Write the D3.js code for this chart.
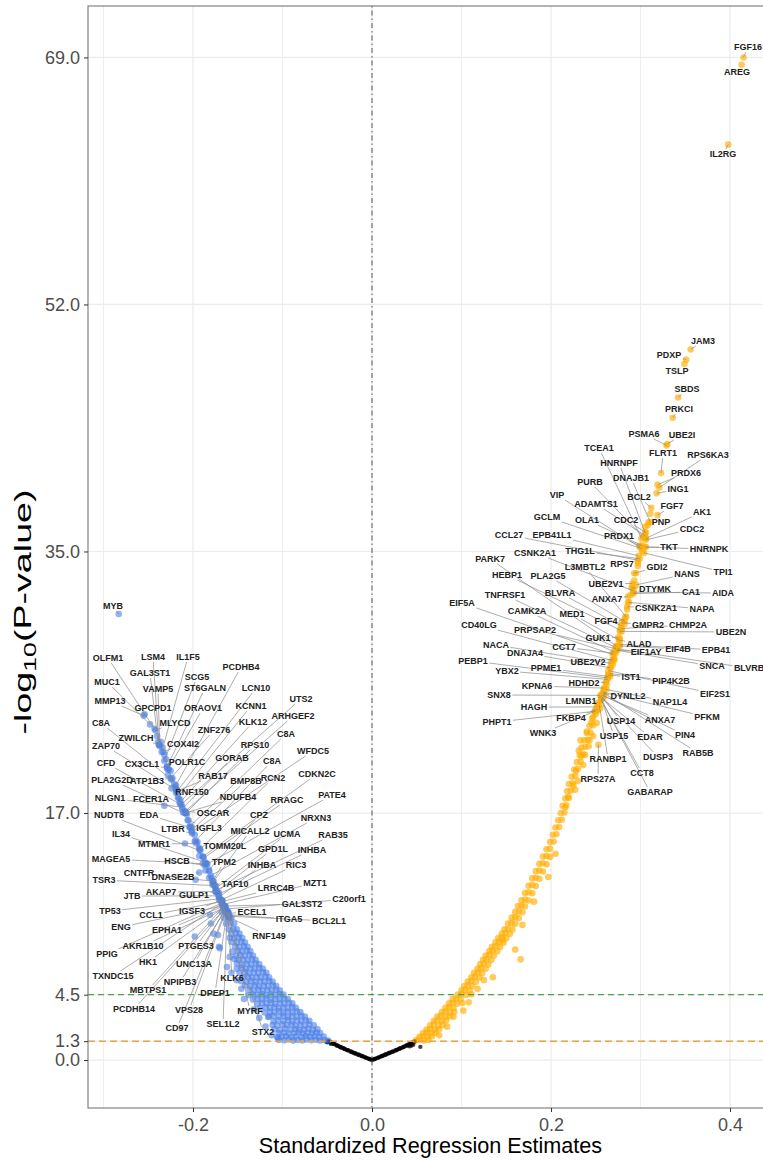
<!DOCTYPE html>
<html>
<head>
<meta charset="utf-8">
<script src="https://cdn.jsdelivr.net/npm/d3@7"></script>
<style>
  body { margin: 0; background: #fff; }
  svg { display: block; }
  text { font-family: "Liberation Sans", Arial, Helvetica, sans-serif; }
</style>
</head>
<body>
<svg id="chart" width="763" height="1163"></svg>
<script>
// ---------------- axis ticks ----------------
const xTicks = [-0.2, 0.0, 0.2, 0.4];
const xTickLabels = ["-0.2", "0.0", "0.2", "0.4"];
const xMinorTicks = [-0.3, -0.1, 0.1, 0.3];
const yTicks = [0, 1.3, 4.5, 17, 35, 52, 69];
const yTickLabels = ["0.0", "1.3", "4.5", "17.0", "35.0", "52.0", "69.0"];
const sigThreshold = 1.3;     // p = 0.05
const strictThreshold = 4.5;  // corrected threshold

// ---------------- non-significant genes [estimate, -log10 p] ----------------
const nsPoints = [
  [-0.002,0.05],[-0.004,0.10],[-0.006,0.15],[-0.008,0.20],[-0.010,0.25],[-0.012,0.30],[-0.014,0.35],[-0.016,0.39],
  [-0.018,0.44],[-0.020,0.49],[-0.022,0.54],[-0.024,0.59],[-0.026,0.65],[-0.028,0.70],[-0.030,0.75],[-0.032,0.81],
  [-0.034,0.86],[-0.036,0.92],[-0.038,0.98],[-0.040,1.04],[-0.042,1.10],[-0.044,1.16],[-0.046,1.22],[-0.048,1.28],
  [-0.003,0.07],[-0.007,0.17],[-0.011,0.27],[-0.015,0.37],[-0.019,0.47],[-0.023,0.57],[-0.027,0.68],[-0.031,0.78],
  [-0.035,0.88],[-0.039,0.99],[-0.043,1.11],[-0.047,1.23],[-0.049,1.30],[-0.050,1.22],[-0.051,1.27],[-0.046,1.12],
  [0.000,0.00],[0.002,0.05],[0.004,0.10],[0.006,0.15],[0.008,0.20],[0.010,0.25],[0.012,0.30],[0.014,0.35],[0.016,0.40],
  [0.018,0.45],[0.020,0.50],[0.022,0.55],[0.024,0.60],[0.026,0.66],[0.028,0.71],[0.030,0.76],[0.032,0.82],
  [0.034,0.87],[0.036,0.93],[0.038,0.99],[0.040,1.05],[0.042,1.11],[0.044,1.17],[0.046,1.23],[0.048,1.29],
  [0.003,0.07],[0.007,0.17],[0.011,0.28],[0.015,0.38],[0.019,0.48],[0.023,0.58],[0.027,0.68],[0.031,0.79],
  [0.035,0.89],[0.039,1.00],[0.043,1.12],[0.047,1.24],[0.042,0.95],[0.044,1.00],[0.046,1.06],[0.054,0.91]
];

// ---------------- negatively associated genes [estimate, -log10 p] ----------------
const downPoints = [
  [-0.049,1.35],[-0.053,1.38],[-0.058,1.34],[-0.063,1.40],[-0.068,1.36],[-0.073,1.42],[-0.078,1.35],[-0.083,1.39],[-0.088,1.34],[-0.093,1.41],[-0.098,1.36],[-0.104,1.38],
  [-0.054,1.62],[-0.059,1.58],[-0.064,1.64],[-0.069,1.60],[-0.074,1.66],[-0.079,1.59],[-0.085,1.63],[-0.090,1.57],[-0.096,1.65],[-0.101,1.61],[-0.106,1.58],
  [-0.058,1.86],[-0.062,1.90],[-0.067,1.84],[-0.072,1.88],[-0.077,1.83],[-0.082,1.91],[-0.087,1.86],[-0.093,1.82],[-0.098,1.89],[-0.104,1.85],
  [-0.061,2.12],[-0.066,2.08],[-0.071,2.15],[-0.076,2.10],[-0.081,2.06],[-0.086,2.13],[-0.091,2.09],[-0.097,2.16],[-0.103,2.07],[-0.109,2.11],
  [-0.065,2.40],[-0.070,2.44],[-0.075,2.38],[-0.080,2.42],[-0.085,2.36],[-0.090,2.45],[-0.095,2.39],[-0.100,2.43],[-0.106,2.37],[-0.111,2.41],
  [-0.070,2.70],[-0.074,2.74],[-0.079,2.68],[-0.084,2.72],[-0.089,2.66],[-0.094,2.75],[-0.099,2.69],[-0.105,2.73],[-0.110,2.67],
  [-0.075,3.00],[-0.079,3.04],[-0.084,2.98],[-0.089,3.02],[-0.094,2.96],[-0.099,3.05],[-0.104,2.99],[-0.110,3.03],[-0.116,2.97],
  [-0.080,3.30],[-0.084,3.34],[-0.089,3.28],[-0.094,3.32],[-0.099,3.26],[-0.104,3.35],[-0.109,3.29],[-0.114,3.33],[-0.120,3.27],
  [-0.085,3.60],[-0.089,3.64],[-0.094,3.58],[-0.099,3.62],[-0.104,3.56],[-0.109,3.65],[-0.114,3.59],[-0.119,3.63],[-0.125,3.57],
  [-0.089,3.90],[-0.093,3.94],[-0.098,3.88],[-0.103,3.92],[-0.108,3.86],[-0.113,3.95],[-0.118,3.89],[-0.123,3.93],[-0.128,3.87],
  [-0.094,4.20],[-0.098,4.24],[-0.103,4.18],[-0.108,4.22],[-0.113,4.16],[-0.118,4.25],[-0.123,4.19],[-0.128,4.23],[-0.133,4.17],
  [-0.099,4.50],[-0.103,4.54],[-0.108,4.48],[-0.113,4.52],[-0.118,4.46],[-0.123,4.55],[-0.128,4.49],[-0.133,4.53],[-0.138,4.47],
  [-0.103,4.80],[-0.107,4.84],[-0.112,4.78],[-0.117,4.82],[-0.122,4.76],[-0.127,4.85],[-0.132,4.79],[-0.137,4.83],
  [-0.107,5.10],[-0.111,5.14],[-0.116,5.08],[-0.121,5.12],[-0.126,5.06],[-0.131,5.15],[-0.136,5.09],[-0.142,5.13],
  [-0.111,5.40],[-0.115,5.44],[-0.120,5.38],[-0.125,5.42],[-0.130,5.36],[-0.135,5.45],[-0.140,5.39],[-0.146,5.43],
  [-0.115,5.70],[-0.119,5.74],[-0.124,5.68],[-0.129,5.72],[-0.134,5.66],[-0.139,5.75],[-0.144,5.69],
  [-0.118,6.00],[-0.122,6.04],[-0.127,5.98],[-0.132,6.02],[-0.137,5.96],[-0.142,6.05],[-0.148,5.99],
  [-0.122,6.30],[-0.126,6.34],[-0.131,6.28],[-0.136,6.32],[-0.141,6.26],[-0.146,6.35],[-0.151,6.29],
  [-0.126,6.60],[-0.130,6.64],[-0.135,6.58],[-0.140,6.62],[-0.145,6.56],[-0.151,6.65],
  [-0.130,6.90],[-0.134,6.94],[-0.139,6.88],[-0.144,6.92],[-0.149,6.86],[-0.154,6.95],
  [-0.133,7.20],[-0.137,7.24],[-0.142,7.18],[-0.147,7.22],[-0.152,7.16],
  [-0.136,7.50],[-0.140,7.54],[-0.145,7.48],[-0.150,7.52],[-0.156,7.46],
  [-0.139,7.80],[-0.143,7.84],[-0.148,7.78],[-0.153,7.82],
  [-0.142,8.10],[-0.146,8.14],[-0.151,8.08],[-0.157,8.12],
  [-0.145,8.40],[-0.149,8.44],[-0.154,8.38],[-0.159,8.42],
  [-0.148,8.70],[-0.152,8.74],[-0.157,8.68],
  [-0.151,9.00],[-0.155,9.04],[-0.160,8.98],
  [-0.154,9.40],[-0.158,9.44],[-0.163,9.38],
  [-0.157,9.80],[-0.161,9.84],[-0.165,9.78],
  [-0.161,10.20],[-0.164,10.24],[-0.168,10.18],
  [-0.164,10.60],[-0.167,10.64],[-0.167,11.00],[-0.171,11.04],[-0.171,11.50],[-0.174,11.54],
  [-0.175,12.00],[-0.178,12.04],[-0.179,12.50],[-0.182,12.54],[-0.182,13.00],[-0.186,13.04],
  [-0.186,13.50],[-0.189,13.54],[-0.189,14.00],[-0.193,14.04],[-0.193,14.50],[-0.195,15.00],[-0.198,15.04],
  [-0.198,15.50],[-0.201,16.00],[-0.204,16.04],[-0.205,16.50],[-0.208,17.00],[-0.211,17.04],
  [-0.216,18.00],[-0.221,19.00],[-0.224,18.70],[-0.228,19.60],[-0.227,20.00],[-0.232,21.00],[-0.236,21.90],
  [-0.214,17.90],[-0.219,18.90],[-0.225,19.90],[-0.230,20.70],[-0.234,21.50],[-0.240,22.30],
  [-0.209,14.90],[-0.197,12.40],[-0.181,10.00],[-0.180,9.40],[-0.198,8.50],[-0.177,8.70],[-0.172,8.60],
  [-0.171,7.80],[-0.170,7.70],[-0.159,7.10],[-0.162,6.40],[-0.157,6.00],[-0.151,5.50],[-0.146,4.90],
  [-0.143,4.20],[-0.132,3.50],[-0.126,2.90],[-0.119,2.30],[-0.112,1.70],[-0.105,1.52],[-0.115,3.00]
];

// ---------------- positively associated genes [estimate, -log10 p] ----------------
const upPoints = [
  [0.049,1.36],[0.053,1.40],[0.058,1.34],[0.063,1.38],
  [0.053,1.60],[0.057,1.64],[0.062,1.58],[0.067,1.62],
  [0.057,1.86],[0.061,1.90],[0.066,1.84],[0.071,1.88],
  [0.061,2.10],[0.065,2.14],[0.070,2.08],[0.075,2.12],
  [0.065,2.40],[0.069,2.44],[0.074,2.38],[0.079,2.42],
  [0.069,2.70],[0.073,2.74],[0.078,2.68],[0.083,2.72],
  [0.073,3.00],[0.077,3.04],[0.082,2.98],[0.087,3.02],
  [0.078,3.30],[0.082,3.34],[0.087,3.28],[0.092,3.32],
  [0.082,3.60],[0.086,3.64],[0.091,3.58],
  [0.086,3.90],[0.090,3.94],[0.095,3.88],[0.101,3.92],
  [0.090,4.20],[0.094,4.24],[0.099,4.18],
  [0.096,4.50],[0.100,4.54],[0.105,4.48],[0.111,4.52],
  [0.100,4.80],[0.104,4.84],[0.109,4.78],
  [0.103,5.10],[0.107,5.14],[0.112,5.08],
  [0.107,5.40],[0.111,5.44],[0.116,5.38],
  [0.111,5.70],[0.115,5.74],[0.120,5.68],
  [0.114,6.00],[0.118,6.04],[0.123,5.98],
  [0.118,6.30],[0.122,6.34],[0.127,6.28],
  [0.121,6.60],[0.125,6.64],[0.130,6.58],
  [0.124,6.90],[0.128,6.94],[0.133,6.88],
  [0.127,7.20],[0.131,7.24],[0.136,7.18],
  [0.131,7.50],[0.135,7.54],[0.140,7.48],
  [0.134,7.80],[0.138,7.84],[0.143,7.78],
  [0.138,8.10],[0.142,8.14],[0.147,8.08],
  [0.141,8.40],[0.145,8.44],[0.150,8.38],
  [0.145,8.70],[0.149,8.74],[0.154,8.68],
  [0.148,9.00],[0.152,9.04],[0.157,8.98],
  [0.152,9.40],[0.156,9.44],[0.160,9.38],
  [0.156,9.80],[0.160,9.84],[0.164,9.78],
  [0.160,10.20],[0.164,10.24],[0.168,10.18],
  [0.163,10.60],[0.167,10.64],[0.171,10.58],
  [0.167,11.00],[0.171,11.04],[0.175,10.98],
  [0.171,11.50],[0.175,11.54],[0.179,11.48],
  [0.175,12.00],[0.179,12.04],[0.183,11.98],
  [0.179,12.50],[0.183,12.54],[0.187,12.48],
  [0.183,13.00],[0.187,13.04],[0.191,12.98],
  [0.187,13.50],[0.191,13.54],[0.195,13.48],
  [0.191,14.00],[0.195,14.04],[0.199,13.98],
  [0.195,14.50],[0.199,14.54],[0.199,15.00],[0.203,15.04],[0.202,15.50],[0.206,15.54],
  [0.205,16.00],[0.209,16.04],[0.208,16.50],[0.212,16.54],[0.211,17.00],[0.215,17.04],
  [0.213,17.50],[0.217,17.54],[0.216,18.00],[0.220,18.04],[0.218,18.50],[0.222,18.54],
  [0.220,19.00],[0.224,19.04],[0.223,19.50],[0.227,19.54],[0.226,20.00],[0.230,20.04],
  [0.229,20.50],[0.233,20.54],[0.232,21.00],[0.236,21.04],[0.234,21.50],[0.238,21.54],
  [0.237,22.00],[0.241,22.04],[0.240,22.50],[0.244,22.54],[0.243,23.00],[0.247,23.04],
  [0.246,23.50],[0.249,24.00],[0.252,24.04],[0.252,24.50],[0.256,25.00],[0.259,25.50],
  [0.262,26.00],[0.264,26.50],[0.267,27.00],[0.270,27.50],[0.272,28.00],[0.274,28.50],
  [0.277,29.00],[0.279,29.50],[0.282,30.00],[0.283,30.50],[0.285,31.00],[0.287,31.50],
  [0.289,32.00],[0.291,32.50],[0.293,33.00],[0.295,33.50],[0.297,34.00],[0.302,35.00],
  [0.305,36.00],[0.309,37.00],[0.311,37.60],[0.305,36.70],
  [0.225,18.90],[0.219,18.10],[0.216,17.40],[0.234,20.90],[0.231,21.30],[0.233,22.00],[0.240,22.60],
  [0.245,23.20],[0.250,23.80],[0.238,21.00],[0.228,19.90],[0.243,22.00],[0.247,23.60],[0.253,24.60],
  [0.255,24.20],[0.259,25.00],[0.262,25.80],[0.266,26.40],[0.269,27.20],[0.271,27.60],
  [0.108,3.97],[0.091,2.98],[0.166,6.93],[0.168,9.30],[0.135,5.70],[0.146,8.26],[0.118,4.90],
  [0.125,5.50],[0.102,3.40],[0.084,2.30],[0.075,1.70],[0.181,10.90],[0.160,7.60],[0.197,12.60],
  [0.205,14.20],[0.230,19.20],[0.227,18.60],[0.236,20.30],[0.242,21.60],[0.247,22.30],[0.251,23.20]
];

// ---------------- labelled genes [name, estimate, -log10 p] ----------------
const upGenes = [
  ["FGF16",0.415,69.0],["AREG",0.413,68.5],["IL2RG",0.398,63.0],["JAM3",0.356,48.9],["PDXP",0.351,48.2],
  ["TSLP",0.349,47.9],["SBDS",0.342,45.6],["PRKCI",0.336,44.2],["PSMA6",0.329,42.3],["UBE2I",0.330,42.4],
  ["TCEA1",0.301,35.9],["FLRT1",0.323,40.4],["RPS6KA3",0.321,39.4],["HNRNPF",0.305,36.3],["PRDX6",0.319,39.6],
  ["DNAJB1",0.311,37.0],["PURB",0.303,36.0],["ING1",0.318,39.0],["VIP",0.299,35.3],["BCL2",0.312,38.0],
  ["ADAMTS1",0.305,36.1],["FGF7",0.319,37.5],["AK1",0.306,35.9],["PNP",0.308,36.8],["GCLM",0.301,35.2],
  ["OLA1",0.302,35.4],["CDC2",0.306,36.3],["CDC2",0.306,35.8],["CCL27",0.297,34.4],["EPB41L1",0.298,34.7],
  ["PRDX1",0.299,35.4],["TKT",0.305,35.3],["HNRNPK",0.306,35.3],["CSNK2A1",0.292,32.3],["THG1L",0.299,34.5],
  ["RPS7",0.297,34.2],["GDI2",0.293,33.5],["PARK7",0.273,28.5],["L3MBTL2",0.284,30.5],["NANS",0.295,32.7],
  ["TPI1",0.304,34.9],["HEBP1",0.277,29.6],["PLA2G5",0.282,30.2],["UBE2V1",0.291,32.8],["DTYMK",0.290,32.5],
  ["CA1",0.292,32.1],["AIDA",0.292,32.2],["TNFRSF1",0.272,28.4],["BLVRA",0.278,29.9],["ANXA7",0.286,31.9],
  ["EIF5A",0.269,27.9],["CSNK2A1",0.285,31.2],["NAPA",0.286,31.5],["CAMK2A",0.270,28.1],["MED1",0.276,28.9],
  ["FGF4",0.282,30.3],["GMPR2",0.279,30.1],["CHMP2A",0.279,29.7],["UBE2N",0.277,29.5],["CD40LG",0.268,27.5],
  ["PRPSAP2",0.273,28.3],["GUK1",0.275,29.1],["ALAD",0.276,28.9],["EIF1AY",0.273,28.2],["EIF4B",0.277,28.5],
  ["EPB41",0.277,28.6],["NACA",0.267,27.3],["CCT7",0.270,28.0],["DNAJA4",0.266,27.0],["UBE2V2",0.270,27.6],
  ["SNCA",0.274,28.2],["BLVRB",0.274,28.3],["PEBP1",0.263,26.3],["PPME1",0.264,26.4],["YBX2",0.263,26.2],
  ["IST1",0.264,26.5],["PIP4K2B",0.266,26.6],["HDHD2",0.261,26.0],["EIF2S1",0.264,26.8],["KPNA6",0.259,25.6],
  ["SNX8",0.255,25.1],["LMNB1",0.257,25.0],["DYNLL2",0.258,25.2],["NAP1L4",0.262,25.5],["HAGH",0.251,24.3],
  ["ANXA7",0.257,25.1],["PFKM",0.259,25.3],["FKBP4",0.251,24.1],["PHPT1",0.249,24.0],["USP14",0.257,25.0],
  ["WNK3",0.249,24.0],["PIN4",0.258,25.1],["USP15",0.256,24.9],["EDAR",0.257,24.9],["RAB5B",0.258,25.3],
  ["DUSP3",0.257,24.9],["RANBP1",0.254,24.4],["CCT8",0.256,24.8],["GABARAP",0.256,24.8],["RPS27A",0.253,21.7]
];

const downGenes = [
  ["MYB",-0.283,30.7],["OLFM1",-0.243,22.8],["LSM4",-0.238,21.7],["IL1F5",-0.235,21.2],["GAL3ST1",-0.239,21.9],
  ["PCDHB4",-0.220,18.8],["MUC1",-0.248,23.1],["SCG5",-0.232,20.6],["VAMP5",-0.237,21.6],["ST6GALN",-0.229,20.2],
  ["LCN10",-0.219,18.4],["MMP13",-0.255,23.7],["GPCPD1",-0.254,23.8],["ORAOV1",-0.228,20.0],["KCNN1",-0.217,18.1],
  ["UTS2",-0.213,17.6],["C8A",-0.224,19.3],["MLYCD",-0.242,22.7],["KLK12",-0.215,17.7],["ARHGEF2",-0.209,17.1],
  ["ZNF276",-0.225,19.4],["ZWILCH",-0.238,21.7],["ZAP70",-0.219,18.6],["COX4I2",-0.233,21.2],["RPS10",-0.208,17.0],
  ["C8A",-0.203,16.1],["WFDC5",-0.201,15.7],["CFD",-0.214,17.6],["CX3CL1",-0.229,20.1],["POLR1C",-0.229,20.2],
  ["GORAB",-0.212,17.3],["C8A",-0.197,15.1],["PLA2G2D",-0.207,16.9],["ATP1B3",-0.223,19.4],["RAB17",-0.218,18.5],
  ["BMP8B",-0.202,15.8],["RCN2",-0.192,14.5],["CDKN2C",-0.189,14.0],["RNF150",-0.218,18.6],["NLGN1",-0.212,17.4],
  ["FCER1A",-0.232,17.5],["NDUFB4",-0.209,17.0],["RRAGC",-0.188,13.9],["PATE4",-0.184,13.5],["NUDT8",-0.192,14.4],
  ["EDA",-0.203,16.0],["OSCAR",-0.208,17.1],["CPZ",-0.182,13.1],["NRXN3",-0.180,12.7],["LTBR",-0.201,15.6],
  ["IGFL3",-0.206,16.5],["MICALL2",-0.178,12.2],["UCMA",-0.175,11.8],["RAB35",-0.174,11.7],["IL34",-0.186,13.6],
  ["MTMR1",-0.196,14.9],["TOMM20L",-0.193,14.6],["GPD1L",-0.173,11.6],["INHBA",-0.172,11.4],["MAGEA5",-0.185,13.5],
  ["HSCB",-0.187,13.4],["TPM2",-0.178,12.3],["INHBA",-0.171,11.2],["RIC3",-0.169,11.0],["CNTFR",-0.177,12.3],
  ["TSR3",-0.175,12.0],["DNASE2B",-0.193,12.9],["TAF10",-0.177,12.1],["LRRC4B",-0.168,10.9],["MZT1",-0.167,10.7],
  ["AKAP7",-0.175,11.6],["JTB",-0.171,11.3],["GULP1",-0.174,11.6],["C20orf1",-0.163,10.4],["GAL3ST2",-0.164,10.6],
  ["TP53",-0.170,11.1],["IGSF3",-0.168,11.0],["ECEL1",-0.161,10.1],["CCL1",-0.168,10.9],["ITGA5",-0.160,10.0],
  ["BCL2L1",-0.160,9.9],["ENG",-0.167,10.6],["EPHA1",-0.166,10.6],["RNF149",-0.159,9.8],["AKR1B10",-0.165,10.5],
  ["PTGES3",-0.164,10.5],["PPIG",-0.168,10.8],["HK1",-0.166,10.5],["UNC13A",-0.164,10.4],["TXNDC15",-0.167,10.8],
  ["KLK6",-0.161,10.2],["NPIPB3",-0.164,10.3],["MBTPS1",-0.165,10.6],["DPEP1",-0.162,10.2],["PCDHB14",-0.165,10.4],
  ["VPS28",-0.163,10.3],["MYRF",-0.160,10.1],["CD97",-0.164,10.2],["SEL1L2",-0.162,10.1],["STX2",-0.160,9.8]
];

// ---------------- label placement: pixel offset of each label from its point ----------------
const upLabelShift = [
  [4.6,-10.4],[-4.6,7.3],[-5.2,9.4],[12.4,-8.5],[-17.1,-4.7],
  [-7.4,7],[8.9,-8.4],[6.3,-8.8],[-22.5,-11.4],[14.6,-8.9],
  [-42.4,-90.4],[1.9,-20],[48.7,-32.5],[-26,-69.6],[28.5,-11.6],
  [-19.3,-44.4],[-53.2,-55],[21.4,-4.3],[-82.6,-52.1],[-12.2,-10.9],
  [-49,-31.5],[14.5,-9.1],[56.1,-26.4],[13.3,-3.3],[-94.4,-31.5],
  [-55.3,-25.6],[-19.9,-12.6],[46.1,-10.8],[-128.8,-25.2],[-86.7,-20.8],
  [-20.6,-9.6],[24,-0.1],[63.1,1.9],[-98.3,-37.7],[-59.6,-7.7],
  [-15.8,0.9],[22.8,-6.3],[-126.3,-86.9],[-41.2,-49.8],[51,-10.9],
  [78.9,19.1],[-112.9,-54.9],[-76.4,-45.2],[-26.4,0.6],[23.4,1.2],
  [57.7,-1.6],[89.7,0.9],[-110.4,-52.3],[-60.8,-32.6],[-21,2.5],
  [-150.8,-51.6],[28.9,1.3],[74,6.7],[-86.7,-40.7],[-47,-26.1],
  [-18.4,1.3],[26.3,2.4],[66.3,-3.5],[111.1,0.6],[-132.9,-35.4],
  [-81.3,-18.8],[-20.1,0.8],[20,3.9],[29.7,1.7],[58.1,3.1],
  [96.1,5.6],[-115,-18.3],[-49.7,-6.2],[-85.1,-14.7],[-25.7,3],
  [94.8,15.7],[131.8,19.2],[-134.4,-16.9],[-62.3,-8.4],[-100.4,-8.3],
  [22.7,2.1],[60.9,7.5],[-21.6,0.8],[106.7,23.4],[-66.8,-2],
  [-101.2,-0.3],[-21,4.2],[25.1,2.2],[63.5,12.5],[-62.6,0.1],
  [58,24.7],[103.2,24.6],[-25.6,8.2],[-97.9,10.7],[19,24.2],
  [-51.9,21.7],[82.1,39.7],[12.9,37.8],[48,38.8],[95.1,60.6],
  [56,58.8],[8.7,53.5],[40.9,73.3],[48.9,92.3],[-0.4,34.3]
];

const downLabelShift = [
  [-5.7,-8.3],[-46.5,-70.7],[-6,-87.7],[26.3,-95],[-8.1,-68.8],
  [65.9,-119.8],[-43,-42.4],[32.6,-83.7],[-1.9,-57.2],[38,-78.5],
  [80,-104.6],[-33.8,-14.6],[8.3,-6.2],[35.1,-61.4],[73.2,-91],
  [119.6,-105.3],[-70.5,-56.6],[19.6,-7.2],[73.4,-80.8],[108.1,-95.5],
  [43.4,-48.1],[-23,-6.7],[-70,-43.7],[19.5,-8],[69.2,-68],
  [95.7,-92.1],[120.9,-80.9],[-74.5,-41.3],[-25,-4],[20,-4.5],
  [49.7,-50.6],[76.3,-79.6],[-74.7,-34.4],[-25.4,2.9],[36.1,-15.2],
  [54.8,-49.4],[72.8,-71.3],[114.2,-82.6],[15.1,2.3],[-72.3,-9.2],
  [-13.4,-6.7],[53.1,-16],[83.3,-58],[124.7,-68.8],[-91.2,-35.8],
  [-41.3,-12.5],[27.2,1.5],[49.9,-54.7],[105.1,-57.5],[-19.1,-4.3],
  [21.4,7.7],[37.3,-51.7],[71.6,-54.5],[116.7,-55],[-84.5,-28.4],
  [-42.6,0.5],[25.7,-1.9],[55.8,-42.5],[93.9,-44.4],[-95.4,-4.8],
  [-27.6,-4.3],[11.3,-19.3],[43,-32.3],[75.3,-35.2],[-74.6,-8.3],
  [-111.4,-5.6],[-26.3,4.4],[21.4,-0.2],[54.4,-13.6],[92.5,-21.5],
  [-54.4,0.5],[-87,0.2],[-22.3,3.5],[122.9,-9.9],[76.8,-2],
  [-109.9,12.3],[-29.6,10.8],[24.1,-1.2],[-70.6,13.4],[60.2,4.3],
  [100.2,4.8],[-101.5,21],[-56.4,24],[39.3,18.4],[-81.3,38.6],
  [-29.2,38.6],[-114.6,50.9],[-75.4,54.6],[-31.2,55.1],[-109.5,72.9],
  [4.1,66.2],[-45.2,71.7],[-76.3,84],[-12,81.2],[-90.3,100.1],
  [-37.1,99.7],[21.2,97.8],[-48.2,116.2],[-4,110.8],[34.2,114.4]
];

// ---------------- layout ----------------
const W = 763, H = 1163;
const panel = { left: 88, right: 773, top: 6, bottom: 1108 };
const colors = { up: "#ffad00", down: "#4a7ee8", ns: "#000000" };

const svg = d3.select("#chart");
const x = d3.scaleLinear().domain([-0.3173, 0.4480]).range([panel.left, panel.right]);
const y = d3.scaleLinear().domain([-3.30, 72.54]).range([panel.bottom, panel.top]);

svg.append("rect").attr("width", W).attr("height", H).attr("fill", "#fff");

// grid
const grid = svg.append("g");
grid.selectAll(".vminor").data(xMinorTicks).join("line")
  .attr("x1", d => x(d)).attr("x2", d => x(d))
  .attr("y1", panel.top).attr("y2", panel.bottom)
  .attr("stroke", "#ececec").attr("stroke-width", 0.9);
grid.selectAll(".vmajor").data(xTicks).join("line")
  .attr("x1", d => x(d)).attr("x2", d => x(d))
  .attr("y1", panel.top).attr("y2", panel.bottom)
  .attr("stroke", "#ebebeb").attr("stroke-width", 1.2);
grid.selectAll(".hmajor").data(yTicks).join("line")
  .attr("x1", panel.left).attr("x2", panel.right)
  .attr("y1", d => y(d)).attr("y2", d => y(d))
  .attr("stroke", "#ebebeb").attr("stroke-width", 1.2);

// points
const pts = svg.append("g");
pts.selectAll(".ns").data(nsPoints).join("circle")
  .attr("cx", d => x(d[0])).attr("cy", d => y(d[1])).attr("r", 2.2)
  .attr("fill", colors.ns).attr("fill-opacity", 0.75);
pts.selectAll(".dn").data(downPoints).join("circle")
  .attr("cx", d => x(d[0])).attr("cy", d => y(d[1])).attr("r", 3.3)
  .attr("fill", colors.down).attr("fill-opacity", 0.6);
pts.selectAll(".up").data(upPoints).join("circle")
  .attr("cx", d => x(d[0])).attr("cy", d => y(d[1])).attr("r", 3.3)
  .attr("fill", colors.up).attr("fill-opacity", 0.65);
pts.selectAll(".dg").data(downGenes).join("circle")
  .attr("cx", d => x(d[1])).attr("cy", d => y(d[2])).attr("r", 3.3)
  .attr("fill", colors.down).attr("fill-opacity", 0.6);
pts.selectAll(".ug").data(upGenes).join("circle")
  .attr("cx", d => x(d[1])).attr("cy", d => y(d[2])).attr("r", 3.3)
  .attr("fill", colors.up).attr("fill-opacity", 0.65);

// reference lines
const refs = svg.append("g");
refs.append("line")
  .attr("x1", panel.left).attr("x2", panel.right)
  .attr("y1", y(strictThreshold)).attr("y2", y(strictThreshold))
  .attr("stroke", "#4aa54a").attr("stroke-width", 1.1).attr("stroke-dasharray", "6,4");
refs.append("line")
  .attr("x1", panel.left).attr("x2", panel.right)
  .attr("y1", y(sigThreshold)).attr("y2", y(sigThreshold))
  .attr("stroke", "#e6a444").attr("stroke-width", 1.5).attr("stroke-dasharray", "7,4");
refs.append("line")
  .attr("x1", x(0)).attr("x2", x(0))
  .attr("y1", panel.top).attr("y2", panel.bottom)
  .attr("stroke", "#444").attr("stroke-width", 0.9).attr("stroke-dasharray", "1.5,3,5,3");

// gene labels with leader segments
const labelData = upGenes.map((g, i) => ({ name: g[0], est: g[1], lp: g[2], s: upLabelShift[i] }))
  .concat(downGenes.map((g, i) => ({ name: g[0], est: g[1], lp: g[2], s: downLabelShift[i] })));

const segLayer = svg.append("g");
const txtLayer = svg.append("g");
labelData.forEach(d => {
  const px = x(d.est), py = y(d.lp);
  const lx = px + d.s[0], ly = py + d.s[1];
  const t = txtLayer.append("text")
    .attr("x", lx).attr("y", ly)
    .attr("text-anchor", "middle").attr("dominant-baseline", "central")
    .attr("font-size", 9).attr("font-weight", "bold").attr("fill", "#222")
    .text(d.name);
  const hw = t.node().getComputedTextLength() / 2 + 1.5, hh = 5;
  const ddx = px - lx, ddy = py - ly;
  if (Math.abs(ddx) <= hw && Math.abs(ddy) <= hh) return;
  const k = Math.min(ddx !== 0 ? hw / Math.abs(ddx) : Infinity, ddy !== 0 ? hh / Math.abs(ddy) : Infinity);
  const ex = lx + ddx * k, ey = ly + ddy * k;
  if (Math.hypot(px - ex, py - ey) < 3) return;
  segLayer.append("line")
    .attr("x1", ex).attr("y1", ey).attr("x2", px).attr("y2", py)
    .attr("stroke", "#8a8a8a").attr("stroke-width", 0.7);
});

// panel border
svg.append("rect")
  .attr("x", panel.left).attr("y", panel.top)
  .attr("width", panel.right - panel.left).attr("height", panel.bottom - panel.top)
  .attr("fill", "none").attr("stroke", "#6b6b6b").attr("stroke-width", 1);

// axes
const yAxis = svg.append("g").attr("transform", `translate(${panel.left},0)`)
  .call(d3.axisLeft(y).tickValues(yTicks).tickFormat((d, i) => yTickLabels[i]).tickSize(4).tickPadding(4));
const xAxis = svg.append("g").attr("transform", `translate(0,${panel.bottom})`)
  .call(d3.axisBottom(x).tickValues(xTicks).tickFormat((d, i) => xTickLabels[i]).tickSize(4).tickPadding(6));
[yAxis, xAxis].forEach(a => {
  a.select(".domain").remove();
  a.selectAll(".tick line").attr("stroke", "#333");
  a.selectAll(".tick text").attr("fill", "#4d4d4d").attr("font-size", 18)
    .attr("font-family", "'Liberation Sans', Arial, sans-serif");
});

// axis titles
svg.append("text")
  .attr("x", (panel.left + panel.right) / 2).attr("y", 1153)
  .attr("text-anchor", "middle").attr("font-size", 21.6).attr("fill", "#000")
  .text("Standardized Regression Estimates");

const yt = svg.append("text")
  .attr("transform", "translate(31,612) rotate(-90)")
  .attr("text-anchor", "middle").attr("font-size", 24).attr("fill", "#000")
  .attr("textLength", 245).attr("lengthAdjust", "spacingAndGlyphs");
yt.append("tspan").text("-log");
yt.append("tspan").attr("font-size", 17).attr("dy", 5).text("10");
yt.append("tspan").attr("dy", -5).text("(P-value)");
</script>
</body>
</html>
